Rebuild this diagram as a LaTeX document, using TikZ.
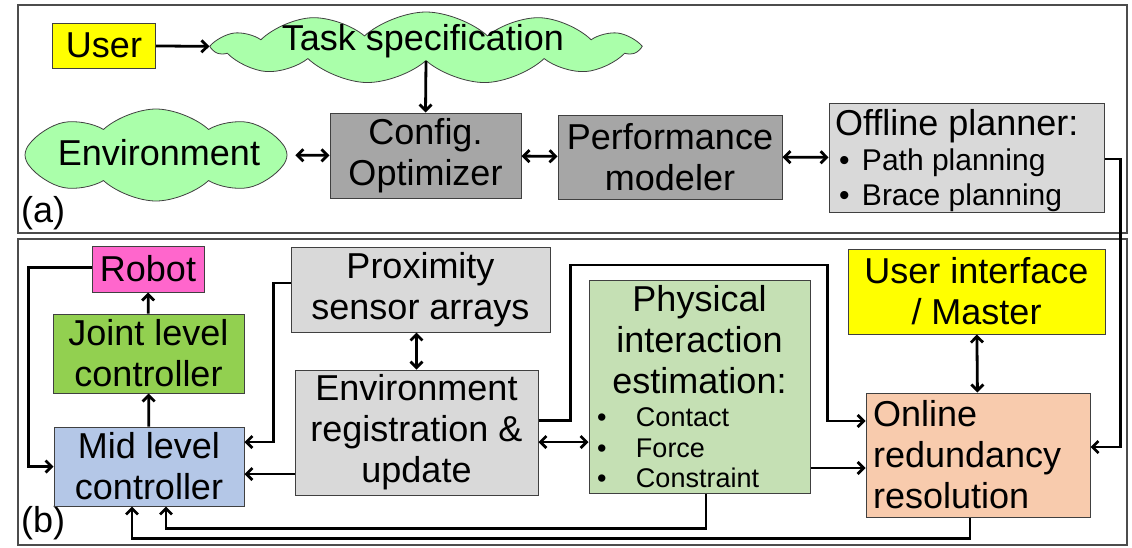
\documentclass[tikz,border=0pt]{standalone}
\usepackage{fontspec}
\setmainfont{Liberation Sans}
\usetikzlibrary{shapes.symbols,arrows.meta}

\definecolor{userY}{HTML}{FFFF00}
\definecolor{cloudG}{HTML}{AAFFAA}
\definecolor{darkG}{HTML}{A6A6A6}
\definecolor{lightG}{HTML}{D9D9D9}
\definecolor{robotM}{HTML}{FF66CC}
\definecolor{jointG}{HTML}{92D050}
\definecolor{midB}{HTML}{B4C7E7}
\definecolor{physG}{HTML}{C5E0B4}
\definecolor{onlineO}{HTML}{F8CBAD}

\newcommand{\bigfont}{\fontsize{36}{41}\selectfont}
\newcommand{\planfont}{\fontsize{30}{35}\selectfont}
\newcommand{\listfont}{\fontsize{27}{30.5}\selectfont}

\begin{document}
\begin{tikzpicture}[x=1pt, y=-1pt,
  blk/.style={draw=black!75, line width=1pt, inner sep=0pt, font=\bigfont, align=center},
  cloudy/.style={cloud, cloud puffs=#1, cloud puff arc=85, cloud ignores aspect,
    draw=black!75, line width=0.8pt, fill=cloudG, inner sep=0pt},
  cloudy/.default=12,
  txt/.style={font=\bigfont, inner sep=0pt},
  panel/.style={draw=black!70, line width=1.2pt},
  link/.style={draw=black, line width=2.8pt},
  >={Straight Barb[length=6pt,width=12pt]}]

\useasboundingbox (0,0) rectangle (1132,547);

% Panel frames
\draw[panel] (18,5) rectangle (1127,233);
\draw[panel] (18,239) rectangle (1127,545);
\node[txt, anchor=west] (taga) at (21,213) {(a)};
\node[txt, anchor=west] (tagb) at (21,523) {(b)};

% Offline stage
\node[blk, fill=userY, minimum width=103pt, minimum height=45pt] (user) at (104,45.5) {User};
\node[cloudy=11, minimum width=422pt, minimum height=72pt] (task) at (426,48) {};
\node[txt] (tasktxt) at (423,41) {Task specification};
\node[cloudy=8, minimum width=262pt, minimum height=92pt] (env) at (156,155) {};
\node[txt] (envtxt) at (159,153) {Environment};
\node[blk, fill=darkG, minimum width=191pt, minimum height=85pt] (config) at (425.5,155.5) {Config.\\Optimizer};
\node[blk, fill=darkG, minimum width=224pt, minimum height=84pt] (perf) at (670,157) {Performance\\modeler};
\node[blk, fill=lightG, minimum width=275pt, inner xsep=6pt, minimum height=109pt] (offline) at (966.5,157.5)
  {\raisebox{-3pt}[\height][\depth]{\parbox[c]{263pt}{\raggedright Offline planner:\\
   \planfont\hspace*{4pt}\makebox[23pt][l]{\textbullet}Path planning\\
   \hspace*{4pt}\makebox[23pt][l]{\textbullet}Brace planning}}};

\draw[link, ->] (user) -- (task);
\draw[link, ->] (task.south) -- (config.north);
\draw[link, <->, shorten <=8pt] (env) -- (config);
\draw[link, <->] (config) -- (perf);
\draw[link, <->] (perf) -- (offline);

% Online stage
\node[blk, fill=robotM, minimum width=112pt, minimum height=46pt] (robot) at (148,269) {Robot};
\node[blk, fill=jointG, minimum width=191pt, minimum height=79pt] (joint) at (148.5,353.5) {Joint level\\controller};
\node[blk, fill=midB, minimum width=190pt, minimum height=79pt] (mid) at (149,466.5) {Mid level\\controller};
\node[blk, fill=lightG, minimum width=259pt, minimum height=85pt] (prox) at (420.5,289.5) {Proximity\\sensor arrays};
\node[blk, fill=lightG, minimum width=243pt, minimum height=125pt] (envreg) at (416.5,432.5) {Environment\\registration \&\\update};
\node[blk, fill=physG, minimum width=221pt, minimum height=213pt] (phys) at (699.5,386.5)
  {\parbox{205pt}{\centering Physical\\interaction\\estimation:\par\vspace{3pt}
   \raggedright\listfont
   \makebox[39pt][l]{\textbullet}Contact\\
   \makebox[39pt][l]{\textbullet}Force\\
   \makebox[39pt][l]{\textbullet}Constraint\par}};
\node[blk, fill=userY, minimum width=257pt, minimum height=85pt] (ui) at (976.5,291.5) {User interface\\/ Master};
\node[blk, fill=onlineO, text width=210pt, inner xsep=7pt, minimum height=124pt, align=left] (online) at (978,455)
  {Online\\redundancy\\resolution};

% Offline plan handed down to the online stage
\draw[link, ->] ([yshift=-1.5pt]offline.east) -- ++(16,0) |- ([yshift=8pt]online.east);

\draw[link, ->] ([yshift=1.5pt]robot.west) -- ++(-63,0) |- (mid.west);
\draw[link, ->] (joint) -- (robot);
\draw[link, ->] (mid) -- (joint);
\draw[link, <->] (envreg.north |- prox.south) -- (envreg.north);
\draw[link, ->] ([yshift=6.5pt]prox.west) -- ++(-17,0) |- ([yshift=24.5pt]mid.east);
\draw[link, ->] ([yshift=-41.5pt]envreg.west) -- ([yshift=-41.5pt]envreg.west -| mid.east);
\draw[link, ->] ([yshift=12pt]envreg.east) -- ++(32,0) -- ++(0,-155.5) -- ++(257,0) |- ([yshift=34pt]online.west);
\draw[link, <->] ([yshift=-9.5pt]envreg.east) -- ([yshift=-9.5pt]envreg.east -| phys.west);
\draw[link, ->] ([yshift=-13pt]online.west -| phys.east) -- ([yshift=-13pt]online.west);
\draw[link, <->] (ui) -- (online);

% Feedback into the mid level controller
\draw[link, ->] ([xshift=6.5pt]phys.south) -- ++(0,35) -| ([xshift=17pt]mid.south);
\draw[link, ->] ([xshift=-8pt]online.south) -- ++(0,21) -| ([xshift=-17pt]mid.south);

\end{tikzpicture}
\end{document}
